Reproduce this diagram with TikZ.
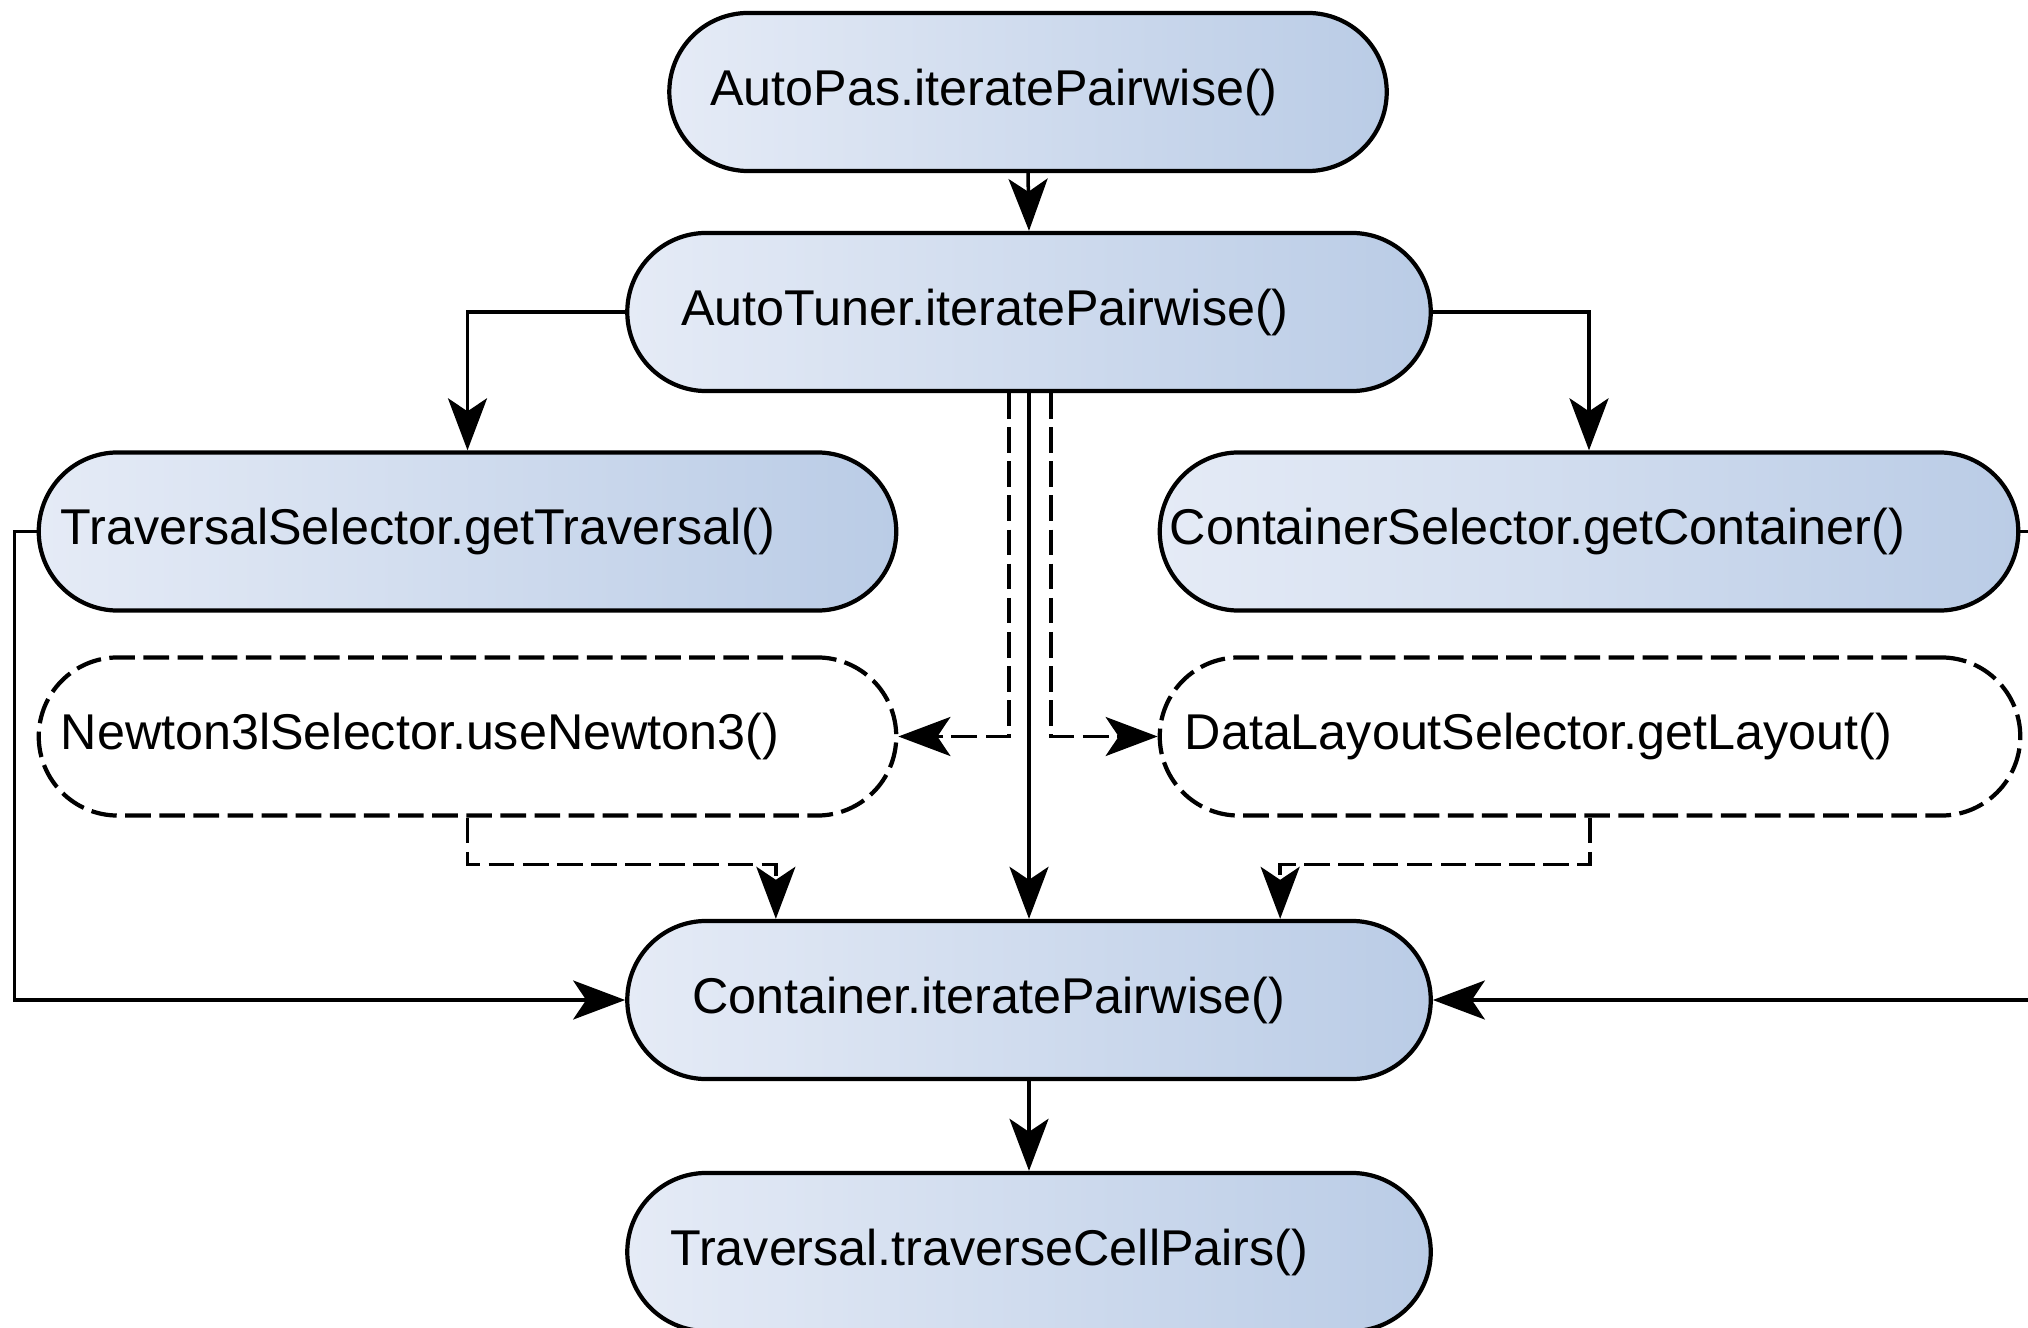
\documentclass[tikz,border=0pt]{standalone}
\usepackage{fontspec}
\setmainfont{Liberation Sans}
\usetikzlibrary{arrows.meta,calc}

\definecolor{fillL}{RGB}{229,235,246}
\definecolor{fillR}{RGB}{186,204,230}

\tikzset{
  base/.style={rounded corners=0.79cm, minimum height=1.58cm, inner ysep=0pt,
    align=left, font=\fontsize{14.3pt}{17pt}\selectfont, line width=1.2pt},
  callbox/.style={base, draw=black, left color=fillL, right color=fillR},
  optbox/.style={base, draw=black, fill=white, dash pattern=on 7.3pt off 2.4pt},
  conn/.style={line width=1pt, -{Stealth[length=0.52cm,width=0.39cm,inset=0.13cm]}},
  dconn/.style={conn, dash pattern=on 7.3pt off 2.4pt}
}

\begin{document}
\begin{tikzpicture}[x=0.01cm, y=-0.01cm]
  \useasboundingbox (0,0) rectangle (2028,1328);

  % call chain
  \node[callbox, text width=6.35cm, inner xsep=0.41cm] (ap) at (1028,92) {AutoPas.iteratePairwise()};
  \node[callbox, text width=6.95cm, inner xsep=0.54cm] (at) at (1029,312) {AutoTuner.iteratePairwise()};
  \node[callbox, text width=8.13cm, inner xsep=0.22cm] (ts) at (467.5,531.5) {TraversalSelector.getTraversal()};
  \node[callbox, text width=8.38cm, inner xsep=0.10cm] (cs) at (1589,531.5) {ContainerSelector.getContainer()};
  \node[optbox, text width=8.13cm, inner xsep=0.22cm] (nw) at (467.5,736.5) {Newton3lSelector.useNewton3()};
  \node[optbox, text width=8.10cm, inner xsep=0.25cm] (dl) at (1590,736.5) {DataLayoutSelector.getLayout()};
  \node[callbox, text width=6.73cm, inner xsep=0.65cm] (ci) at (1029,1000) {Container.iteratePairwise()};
  \node[callbox, text width=7.17cm, inner xsep=0.43cm] (tv) at (1029,1252) {Traversal.traverseCellPairs()};

  % solid calls
  \draw[conn] (ap.south) -- (at.north);
  \draw[conn] (at.west) -| (ts.north);
  \draw[conn] (at.east) -| (cs.north);
  \draw[conn] (at.south) -- (ci.north);
  \draw[conn] (ts.west) -- ++(-22,0) |- (ci.west);
  \draw[conn] (cs.east) -- ++(40,0) |- (ci.east);
  \draw[conn] (ci.south) -- (tv.north);

  % optional selections
  \draw[dconn] ([xshift=-0.2cm]at.south) |- (nw.east);
  \draw[dconn] ([xshift=0.22cm]at.south) |- (dl.west);
  \draw[dconn] (nw.south) -- ++(0,47) -| ([xshift=-2.53cm]ci.north);
  \draw[dconn] (dl.south) -- ++(0,47) -| ([xshift=2.51cm]ci.north);
\end{tikzpicture}
\end{document}
